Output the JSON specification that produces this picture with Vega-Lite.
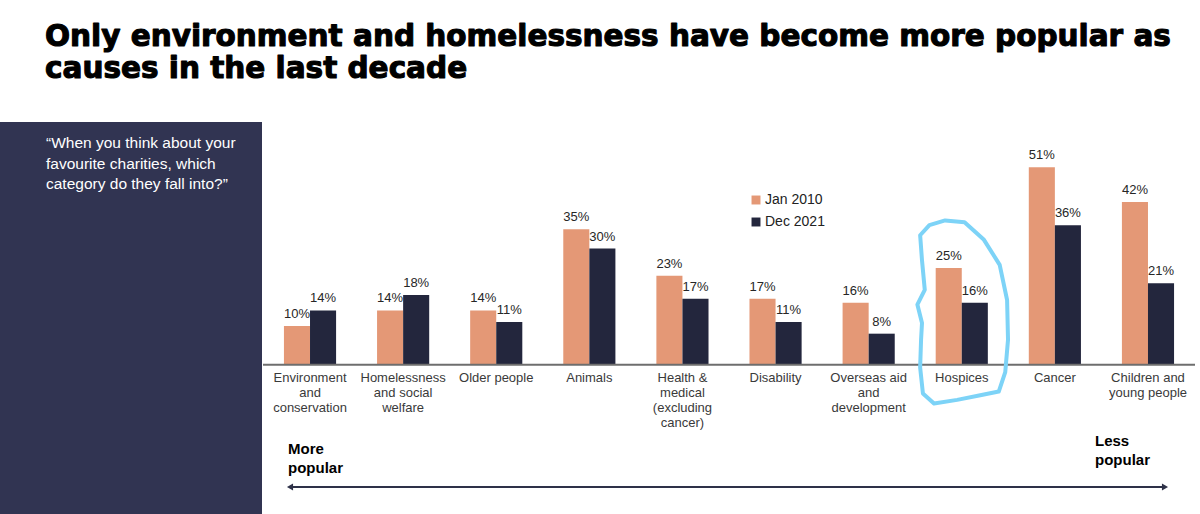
{
  "$schema": "https://vega.github.io/schema/vega-lite/v6.json",
  "padding": {"left": 0, "top": 21, "right": 0, "bottom": 0},
  "background": "white",
  "title": {
    "text": ["Only environment and homelessness have become more popular as", "causes in the last decade"],
    "anchor": "start", "dx": 45, "font": "DejaVu Sans", "fontSize": 29.5, "fontWeight": "bold",
    "lineHeight": 32, "color": "black", "offset": 38
  },
  "config": {
    "view": {"stroke": null},
    "font": "Liberation Sans",
    "style": {"group-title": {"stroke": "black", "strokeWidth": 1.1, "strokeJoin": "round"}}
  },
  "spacing": 0,
  "datasets": {
    "bars": [
      {"cause": "Environment and conservation", "period": "Jan 2010", "pct": 10},
      {"cause": "Environment and conservation", "period": "Dec 2021", "pct": 14},
      {"cause": "Homelessness and social welfare", "period": "Jan 2010", "pct": 14},
      {"cause": "Homelessness and social welfare", "period": "Dec 2021", "pct": 18},
      {"cause": "Older people", "period": "Jan 2010", "pct": 14},
      {"cause": "Older people", "period": "Dec 2021", "pct": 11},
      {"cause": "Animals", "period": "Jan 2010", "pct": 35},
      {"cause": "Animals", "period": "Dec 2021", "pct": 30},
      {"cause": "Health & medical (excluding cancer)", "period": "Jan 2010", "pct": 23},
      {"cause": "Health & medical (excluding cancer)", "period": "Dec 2021", "pct": 17},
      {"cause": "Disability", "period": "Jan 2010", "pct": 17},
      {"cause": "Disability", "period": "Dec 2021", "pct": 11},
      {"cause": "Overseas aid and development", "period": "Jan 2010", "pct": 16},
      {"cause": "Overseas aid and development", "period": "Dec 2021", "pct": 8},
      {"cause": "Hospices", "period": "Jan 2010", "pct": 25},
      {"cause": "Hospices", "period": "Dec 2021", "pct": 16},
      {"cause": "Cancer", "period": "Jan 2010", "pct": 51},
      {"cause": "Cancer", "period": "Dec 2021", "pct": 36},
      {"cause": "Children and young people", "period": "Jan 2010", "pct": 42},
      {"cause": "Children and young people", "period": "Dec 2021", "pct": 21}
    ],
    "cats": [
      {"cause": "Environment and conservation", "lines": ["Environment", "and", "conservation"]},
      {"cause": "Homelessness and social welfare", "lines": ["Homelessness", "and social", "welfare"]},
      {"cause": "Older people", "lines": ["Older people"]},
      {"cause": "Animals", "lines": ["Animals"]},
      {"cause": "Health & medical (excluding cancer)", "lines": ["Health &", "medical", "(excluding", "cancer)"]},
      {"cause": "Disability", "lines": ["Disability"]},
      {"cause": "Overseas aid and development", "lines": ["Overseas aid", "and", "development"]},
      {"cause": "Hospices", "lines": ["Hospices"]},
      {"cause": "Cancer", "lines": ["Cancer"]},
      {"cause": "Children and young people", "lines": ["Children and", "young people"]}
    ],
    "quote": [
      {"q": ["“When you think about your", "favourite charities, which", "category do they fall into?”"]}
    ],
    "more": [{"t": ["More", "popular"]}],
    "less": [{"t": ["Less", "popular"]}],
    "one": [{"k": 1}]
  },
  "hconcat": [
    {
      "width": 262, "height": 392,
      "view": {"fill": "#313452", "stroke": null},
      "data": {"name": "quote"},
      "mark": {"type": "text", "align": "left", "baseline": "alphabetic", "color": "white", "fontSize": 15.5, "lineHeight": 20.5, "font": "Liberation Sans"},
      "encoding": {"x": {"value": 46}, "y": {"value": 26}, "text": {"field": "q"}}
    },
    {
      "width": 932, "height": 392,
      "layer": [
        {
          "data": {"name": "bars"},
          "mark": {"type": "bar"},
          "encoding": {
            "x": {"field": "cause", "type": "nominal", "axis": null,
                  "scale": {"domain": ["Environment and conservation", "Homelessness and social welfare", "Older people", "Animals", "Health & medical (excluding cancer)", "Disability", "Overseas aid and development", "Hospices", "Cancer", "Children and young people"], "paddingInner": 0.44, "paddingOuter": 0.225}},
            "xOffset": {"field": "period", "type": "nominal", "sort": ["Jan 2010", "Dec 2021"]},
            "y": {"field": "pct", "type": "quantitative", "axis": null, "scale": {"domain": [-38.6, 62.7], "nice": false, "zero": false}},
            "color": {"field": "period", "type": "nominal", "sort": ["Jan 2010", "Dec 2021"],
                      "scale": {"domain": ["Jan 2010", "Dec 2021"], "range": ["#E49876", "#23263D"]},
                      "legend": {"orient": "none", "legendX": 749, "legendY": 71, "title": null, "symbolType": "square", "symbolSize": 80, "symbolStrokeWidth": 0, "labelFontSize": 14, "labelColor": "#222222", "labelFont": "Liberation Sans", "rowPadding": 8, "labelOffset": 2}}
          }
        },
        {
          "data": {"name": "bars"},
          "transform": [{"calculate": "datum.pct + '%'", "as": "label"}],
          "mark": {"type": "text", "baseline": "alphabetic", "dy": -8, "fontSize": 13, "color": "#262626", "font": "Liberation Sans"},
          "encoding": {
            "x": {"field": "cause", "type": "nominal"},
            "xOffset": {"field": "period", "type": "nominal", "sort": ["Jan 2010", "Dec 2021"]},
            "y": {"field": "pct", "type": "quantitative"},
            "text": {"field": "label", "type": "nominal"}
          }
        },
        {
          "data": {"name": "one"},
          "mark": {"type": "rule", "color": "#6E6E6E", "strokeWidth": 2},
          "encoding": {"y": {"datum": 0}}
        },
        {
          "data": {"name": "cats"},
          "mark": {"type": "text", "baseline": "top", "dy": 7, "fontSize": 13, "lineHeight": 15.2, "color": "#3A3A3A", "font": "Liberation Sans"},
          "encoding": {
            "x": {"field": "cause", "type": "nominal"},
            "y": {"datum": 0},
            "text": {"field": "lines"}
          }
        },
        {
          "data": {"name": "more"},
          "mark": {"type": "text", "align": "left", "baseline": "alphabetic", "dx": -22, "fontSize": 15, "fontWeight": "bold", "lineHeight": 19, "color": "black", "font": "Liberation Sans"},
          "encoding": {"x": {"datum": "Environment and conservation"}, "y": {"datum": -23.2}, "text": {"field": "t"}}
        },
        {
          "data": {"name": "less"},
          "mark": {"type": "text", "align": "left", "baseline": "alphabetic", "dx": -53, "fontSize": 15, "fontWeight": "bold", "lineHeight": 19, "color": "black", "font": "Liberation Sans"},
          "encoding": {"x": {"datum": "Children and young people"}, "y": {"datum": -21}, "text": {"field": "t"}}
        },
        {
          "data": {"name": "one"},
          "mark": {"type": "rule", "color": "#2E3148", "strokeWidth": 2, "xOffset": -19, "x2Offset": 16},
          "encoding": {"x": {"datum": "Environment and conservation"}, "x2": {"datum": "Children and young people"}, "y": {"datum": -31.6}}
        },
        {
          "data": {"name": "one"},
          "mark": {"type": "point", "shape": "triangle-left", "filled": true, "opacity": 1, "size": 50, "color": "#2E3148", "xOffset": -20},
          "encoding": {"x": {"datum": "Environment and conservation"}, "y": {"datum": -31.6}}
        },
        {
          "data": {"name": "one"},
          "mark": {"type": "point", "shape": "triangle-right", "filled": true, "opacity": 1, "size": 50, "color": "#2E3148", "xOffset": 17},
          "encoding": {"x": {"datum": "Children and young people"}, "y": {"datum": -31.6}}
        },
        {
          "data": {"name": "one"},
          "mark": {"type": "point", "filled": false, "opacity": 1, "stroke": "#7DD3F7", "strokeWidth": 4, "strokeJoin": "round", "size": 34225,
                   "shape": "M-0.35,-0.94 L-0.18,-0.99 L0.03,-0.97 L0.24,-0.78 L0.41,-0.51 L0.49,-0.13 L0.5,0.3 L0.47,0.65 L0.4,0.86 L0.2,0.9 L-0.05,0.95 L-0.3,0.99 L-0.42,0.88 L-0.45,0.6 L-0.44,0.3 L-0.43,0.12 L-0.48,-0.08 L-0.4,-0.24 L-0.43,-0.56 L-0.45,-0.83 Z"},
          "encoding": {"x": {"datum": "Hospices"}, "y": {"datum": 13.6}}
        }
      ]
    }
  ]
}
